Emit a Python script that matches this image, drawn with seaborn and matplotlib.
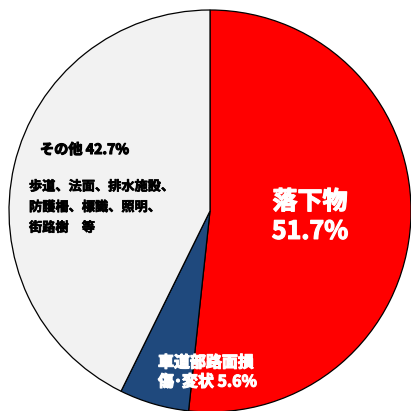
import matplotlib
matplotlib.use("Agg")
import matplotlib.pyplot as plt
import matplotlib.patheffects as pe
import seaborn as sns

sns.set_style("white")
plt.rcParams["font.family"] = ["Noto Sans CJK JP", "DejaVu Sans"]

# Damage categories (share of reported cases, %)
categories = ["落下物", "車道部路面損傷･変状", "その他"]
shares = [51.7, 5.6, 42.7]
colors = ["#FF0000", "#1F497D", "#F2F2F2"]
other_detail = ["歩道、法面、排水施設、", "防護柵、標識、照明、", "街路樹　等"]

W = 411
fig = plt.figure(figsize=(W / 100, W / 100), dpi=100)

# pie centre / radius in pixels
cx, cy, r = 210, 211, 201
ax = fig.add_axes([(cx - r) / W, (W - cy - r) / W, 2 * r / W, 2 * r / W])
ax.pie(shares, colors=colors, startangle=90, counterclock=False,
       wedgeprops=dict(edgecolor="black", linewidth=0.9))
ax.set_xlim(-1, 1)
ax.set_ylim(-1, 1)
ax.set_aspect("equal")
ax.axis("off")


def pos(px, py):
    return (px - cx) / r, (cy - py) / r


def heavy(color, w=0.7):
    # thicken glyphs a little with a same-colour outline
    return [pe.withStroke(linewidth=w, foreground=color)]


ax.text(*pos(310, 217), f"{categories[0]}\n{shares[0]:.1f}%",
        color="white", fontsize=18, fontweight="bold",
        ha="center", va="center", linespacing=1.3,
        path_effects=heavy("white", 0.9))

ax.text(*pos(40, 150), f"{categories[2]} {shares[2]:.1f}%",
        color="black", fontsize=10.2, fontweight="bold",
        ha="left", va="center", path_effects=heavy("black", 0.8))

ax.text(*pos(29, 207), "\n".join(other_detail),
        color="black", fontsize=9.5, fontweight="bold",
        ha="left", va="center", linespacing=1.6,
        path_effects=heavy("black", 0.5))

road = categories[1]
ax.text(*pos(158, 372), f"{road[:6]}\n{road[6:]} {shares[1]:.1f}%",
        color="white", fontsize=11.5, fontweight="bold",
        ha="left", va="center", linespacing=1.25,
        path_effects=heavy("white", 0.8))

fig.savefig("out.png", dpi=100)
